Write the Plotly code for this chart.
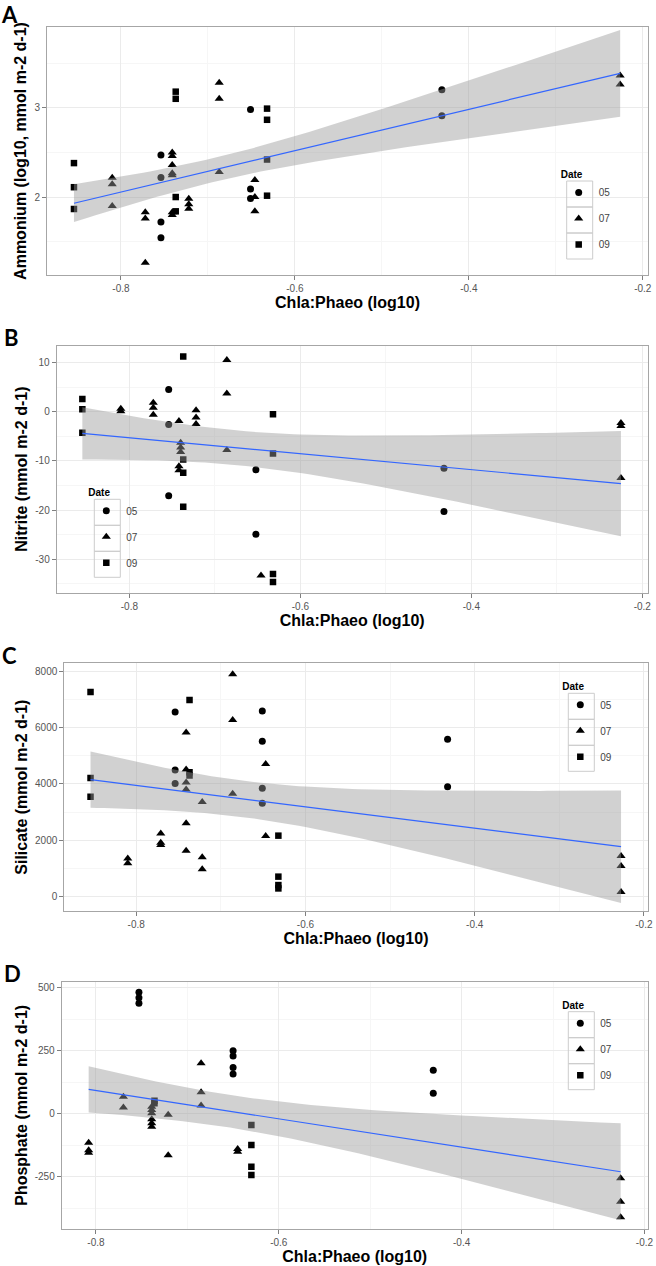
import numpy as np
import plotly.graph_objects as go

W, H = 656, 1266

# ---------------- data ----------------
# Panel A - Ammonium (log10)
a05_x = [-0.754, -0.754, -0.754, -0.754, -0.651, -0.651, -0.651, -0.431, -0.431]
a05_y = [2.47, 2.22, 1.72, 1.544, 2.98, 2.09, 1.985, 3.20, 2.91]
a07_x = [-0.81, -0.81, -0.81, -0.772, -0.772, -0.772, -0.741, -0.741, -0.741, -0.741,
         -0.741, -0.741, -0.741, -0.722, -0.722, -0.722, -0.687, -0.687, -0.687,
         -0.646, -0.646, -0.646, -0.226, -0.226]
a07_y = [2.216, 2.142, 1.90, 1.83, 1.76, 1.264, 2.50, 2.46, 2.36, 2.265,
         2.245, 1.83, 1.80, 1.98, 1.92, 1.87, 3.28, 3.10, 2.28,
         2.19, 2.00, 1.84, 3.36, 3.26]
a09_x = [-0.854, -0.854, -0.854, -0.737, -0.737, -0.737, -0.737, -0.632, -0.632, -0.632, -0.632]
a09_y = [2.38, 2.11, 1.866, 3.18, 3.10, 2.00, 1.84, 2.99, 2.865, 2.42, 2.015]

# Panel B - Nitrite
b05_x = [-0.754, -0.754, -0.754, -0.652, -0.652, -0.432, -0.432]
b05_y = [4.5, -2.6, -17.1, -11.8, -24.9, -11.5, -20.3]
b07_x = [-0.81, -0.81, -0.772, -0.772, -0.772, -0.742, -0.742, -0.742, -0.740, -0.740,
         -0.740, -0.722, -0.722, -0.722, -0.686, -0.686, -0.686, -0.646, -0.225, -0.225, -0.225]
b07_y = [0.6, 0.1, 1.8, 0.8, -0.6, -1.9, -11.1, -11.9, -6.3, -7.3,
         -8.2, 0.3, -1.2, -2.5, 10.5, 3.7, -7.8, -33.3, -2.3, -2.9, -13.5]
b09_x = [-0.855, -0.855, -0.855, -0.737, -0.737, -0.737, -0.737, -0.632, -0.632, -0.632, -0.632]
b09_y = [2.6, 0.5, -4.3, 11.2, -9.7, -12.4, -19.3, -0.5, -8.5, -33.0, -34.6]

# Panel C - Silicate
c05_x = [-0.754, -0.754, -0.754, -0.651, -0.651, -0.651, -0.651, -0.432, -0.432]
c05_y = [6565, 4500, 4020, 6600, 5520, 3850, 3310, 5590, 3900]
c07_x = [-0.81, -0.81, -0.771, -0.771, -0.771, -0.741, -0.741, -0.741, -0.741, -0.741,
         -0.741, -0.722, -0.722, -0.722, -0.686, -0.686, -0.686, -0.647, -0.647,
         -0.227, -0.227, -0.227]
c07_y = [1350, 1180, 2240, 1910, 1830, 5830, 4520, 4050, 3800, 2600,
         1620, 3360, 1390, 960, 7910, 6280, 3650, 4710, 2150,
         1435, 1080, 150]
c09_x = [-0.854, -0.854, -0.854, -0.737, -0.737, -0.737, -0.632, -0.632, -0.632, -0.632]
c09_y = [7280, 4210, 3550, 6990, 4420, 4300, 2160, 700, 400, 280]

# Panel D - Phosphate
d05_x = [-0.753, -0.753, -0.753, -0.650, -0.650, -0.650, -0.650, -0.431, -0.431]
d05_y = [482, 460, 438, 250, 229, 183, 158, 173, 81]
d07_x = [-0.808, -0.808, -0.808, -0.770, -0.770, -0.739, -0.739, -0.739, -0.739, -0.739,
         -0.739, -0.721, -0.721, -0.685, -0.685, -0.685, -0.645, -0.645, -0.226, -0.226, -0.226]
d07_y = [-115, -145, -155, 67, 25, 28, 15, 2, -22, -38,
         -52, -4, -165, 200, 85, 33, -140, -151, -256, -349, -411]
d09_x = [-0.736, -0.736, -0.630, -0.630, -0.630, -0.630]
d09_y = [52, 42, -45, -124, -210, -243]

dates = ["05", "07", "09"]
panels = ["A", "B", "C", "D"]
y_titles = ["Ammonium (log10, mmol m-2 d-1)", "Nitrite (mmol m-2 d-1)",
            "Silicate (mmol m-2 d-1)", "Phosphate (mmol m-2 d-1)"]
x_title = "Chla:Phaeo (log10)"

x_tickvals = [-0.8, -0.6, -0.4, -0.2]
x_ticktext = ["-0.8", "-0.6", "-0.4", "-0.2"]
x_minor = [-0.9, -0.7, -0.5, -0.3]

yA_ticks = [2, 3];                      yA_text = ["2", "3"];                    yA_minor = [1.5, 2.5, 3.5]
yB_ticks = [-30, -20, -10, 0, 10];      yB_text = ["-30", "-20", "-10", "0", "10"]; yB_minor = [-35, -25, -15, -5, 5]
yC_ticks = [0, 2000, 4000, 6000, 8000]; yC_text = ["0", "2000", "4000", "6000", "8000"]; yC_minor = [1000, 3000, 5000, 7000]
yD_ticks = [-250, 0, 250, 500];         yD_text = ["-250", "0", "250", "500"];   yD_minor = [-375, -125, 125, 375]

series = [
    [(a05_x, a05_y), (a07_x, a07_y), (a09_x, a09_y)],
    [(b05_x, b05_y), (b07_x, b07_y), (b09_x, b09_y)],
    [(c05_x, c05_y), (c07_x, c07_y), (c09_x, c09_y)],
    [(d05_x, d05_y), (d07_x, d07_y), (d09_x, d09_y)],
]
y_ticks = [(yA_ticks, yA_text, yA_minor), (yB_ticks, yB_text, yB_minor),
           (yC_ticks, yC_text, yC_minor), (yD_ticks, yD_text, yD_minor)]

# ---------------- layout geometry (pixels) ----------------
plot_boxes = [  # left, top, right, bottom
    (47, 27, 648, 275),
    (56.7, 345.7, 647.7, 592.7),
    (64.3, 663.3, 647.7, 911),
    (61.7, 981.7, 647.7, 1229),
]
x_ranges = [(-0.885, -0.194), (-0.885, -0.1937), (-0.885, -0.1955), (-0.8375, -0.1964)]
y_ranges = [(1.127, 3.904), (-36.79, 13.41), (-524, 8299), (-457.5, 524)]
legend_cells = [  # left, top of first cell
    (566.7, 181),
    (94.3, 499.3),
    (568.3, 693.3),
    (568.3, 1011.7),
]
cell = 26
letter_pos = [(9, 14), (11, 337), (9, 656), (12, 973)]

symbols = {"05": "circle", "07": "triangle-up", "09": "square"}
sizes = {"05": 7, "07": 8, "09": 6.5}

FONT = "Liberation Sans, Arial, sans-serif"


def fit_band(xs, ys, n_grid=80):
    x = np.asarray(xs, float)
    y = np.asarray(ys, float)
    n = len(x)
    b1, b0 = np.polyfit(x, y, 1)
    xg = np.linspace(x.min(), x.max(), n_grid)
    yhat = b0 + b1 * xg
    resid = y - (b0 + b1 * x)
    s = np.sqrt(np.sum(resid ** 2) / (n - 2))
    sxx = np.sum((x - x.mean()) ** 2)
    se = s * np.sqrt(1.0 / n + (xg - x.mean()) ** 2 / sxx)
    df = n - 2
    z = 1.959963985
    t = (z + (z ** 3 + z) / (4 * df) + (5 * z ** 5 + 16 * z ** 3 + 3 * z) / (96 * df ** 2)
         + (3 * z ** 7 + 19 * z ** 5 + 17 * z ** 3 - 15 * z) / (384 * df ** 3))
    return xg, yhat, yhat - t * se, yhat + t * se


fig = go.Figure()
layout = dict(
    width=W, height=H, margin=dict(l=0, r=0, t=0, b=0),
    paper_bgcolor="white", plot_bgcolor="white",
    font=dict(family=FONT, size=10, color="#333333"),
    showlegend=True,
)
shapes = []
annotations = []

for i, p in enumerate(panels):
    sfx = "" if i == 0 else str(i + 1)
    xa, ya = "x" + sfx, "y" + sfx
    leg = "legend" + sfx
    l, t, r, b = plot_boxes[i]

    # points
    allx, ally = [], []
    for d, (xs, ys) in zip(dates, series[i]):
        allx += xs
        ally += ys
        fig.add_trace(go.Scatter(
            x=xs, y=ys, mode="markers", name=d, xaxis=xa, yaxis=ya,
            legend=leg, legendgroup=p + d,
            marker=dict(symbol=symbols[d], size=sizes[d], color="black",
                        line=dict(width=0)),
            hoverinfo="x+y",
        ))
    # regression + 95% CI (drawn over the points, like geom_smooth)
    xg, yhat, lo, hi = fit_band(allx, ally)
    fig.add_trace(go.Scatter(
        x=np.concatenate([xg, xg[::-1]]), y=np.concatenate([hi, lo[::-1]]),
        fill="toself", fillcolor="rgba(153,153,153,0.45)", line=dict(width=0),
        mode="lines", xaxis=xa, yaxis=ya, showlegend=False, hoverinfo="skip",
    ))
    fig.add_trace(go.Scatter(
        x=xg, y=yhat, mode="lines", line=dict(color="#3366FF", width=1.2),
        xaxis=xa, yaxis=ya, showlegend=False, hoverinfo="skip",
    ))

    yt, ytt, ym = y_ticks[i]
    layout["xaxis" + sfx] = dict(
        domain=[l / W, r / W], range=list(x_ranges[i]), anchor=ya,
        tickvals=x_tickvals, ticktext=x_ticktext,
        ticks="outside", ticklen=4, tickcolor="#7f7f7f", tickwidth=1,
        tickfont=dict(size=10, color="#555555", family=FONT),
        showgrid=True, gridcolor="#ebebeb", gridwidth=1, zeroline=False,
        showline=True, mirror=True, linecolor="#a6a6a6", linewidth=1,
        minor=dict(tickvals=x_minor, showgrid=True, gridcolor="#f6f6f6", ticks=""),
        title=dict(text=x_title, standoff=2,
                   font=dict(size=16, color="black", family=FONT, weight="bold")),
        automargin=False, fixedrange=True,
    )
    layout["yaxis" + sfx] = dict(
        domain=[1 - b / H, 1 - t / H], range=list(y_ranges[i]), anchor=xa,
        tickvals=yt, ticktext=ytt,
        ticks="outside", ticklen=4, tickcolor="#7f7f7f", tickwidth=1,
        tickfont=dict(size=10, color="#555555", family=FONT),
        showgrid=True, gridcolor="#ebebeb", gridwidth=1, zeroline=False,
        showline=True, mirror=True, linecolor="#a6a6a6", linewidth=1,
        minor=dict(tickvals=ym, showgrid=True, gridcolor="#f6f6f6", ticks=""),
        title=dict(text=y_titles[i], standoff=3,
                   font=dict(size=16, color="black", family=FONT, weight="bold")),
        automargin=False, fixedrange=True,
    )

    # legend
    cl, ct = legend_cells[i]
    layout[leg] = dict(
        x=(cl - 8) / W, y=1 - (ct - 16) / H, xanchor="left", yanchor="top",
        title=dict(text="Date", font=dict(size=10, color="black", family=FONT, weight="bold")),
        font=dict(size=10, color="#444444", family=FONT),
        bgcolor="rgba(0,0,0,0)", borderwidth=0, tracegroupgap=7,
        itemwidth=30,
    )
    for k in range(3):
        shapes.append(dict(
            type="rect", xref="paper", yref="paper", layer="above",
            x0=cl / W, x1=(cl + cell) / W,
            y0=1 - (ct + cell * (k + 1)) / H, y1=1 - (ct + cell * k) / H,
            line=dict(color="#cccccc", width=1), fillcolor="rgba(0,0,0,0)",
        ))

    lx, ly = letter_pos[i]
    annotations.append(dict(
        text=p, x=lx / W, y=1 - ly / H, xref="paper", yref="paper",
        xanchor="center", yanchor="middle", showarrow=False,
        font=dict(size=22, color="black", family="Lato, Open Sans, sans-serif", weight="bold"),
    ))

layout["shapes"] = shapes
layout["annotations"] = annotations
fig.update_layout(**layout)
fig.write_html(
    "out.html",
    config={"displayModeBar": False},
    post_script="document.body.style.margin='0';document.body.style.overflow='hidden';",
)
